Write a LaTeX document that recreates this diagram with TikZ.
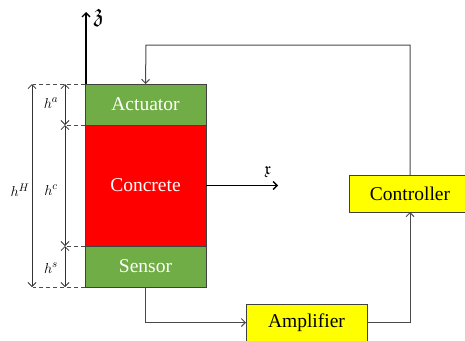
\documentclass[tikz,border=0pt]{standalone}
\usepackage{amssymb}
\usepackage{fontspec}
\setmainfont{Liberation Serif}
\usetikzlibrary{arrows.meta}
\definecolor{boxgreen}{HTML}{70AD47}
\definecolor{boxred}{HTML}{FF0000}
\definecolor{boxyellow}{HTML}{FFFF00}
\definecolor{lineg}{HTML}{4A4A4A}
\tikzset{
  blk/.style={draw=black!75, line width=0.6pt, inner sep=0pt, outer sep=0pt, font=\fontsize{19.5}{22}\selectfont},
  gbox/.style={blk, fill=boxgreen, text=white, minimum width=121pt},
  rbox/.style={blk, fill=boxred, text=white, minimum width=121pt},
  ybox/.style={blk, fill=boxyellow, text=black},
  conn/.style={draw=lineg, line width=1pt, -{Straight Barb[length=4pt,width=8pt]}},
  axisarrow/.style={draw=black, line width=1.4pt, -{Straight Barb[length=4pt,width=8pt]}},
  dimline/.style={draw=black!70, line width=0.8pt, dash pattern=on 4pt off 3pt},
  dimarrow/.style={draw=black!80, line width=0.8pt, {Straight Barb[length=4pt,width=8pt]}-{Straight Barb[length=4pt,width=8pt]}},
  dimlabel/.style={font=\fontsize{15}{17}\selectfont, inner sep=0pt}
}
\begin{document}
\begin{tikzpicture}[x=1pt,y=-1pt]
\useasboundingbox (0,0) rectangle (465,340);
% blocks
\node[gbox, minimum height=41pt] (act) at (145.5,104.5) {Actuator};
\node[rbox, minimum height=121pt] (conc) at (145.5,185.5) {Concrete};
\node[gbox, minimum height=41pt] (sens) at (145.5,266.5) {Sensor};
\node[ybox, minimum width=121pt, minimum height=37pt] (amp) at (306.5,322.5) {Amplifier};
\node[ybox, minimum width=122pt, minimum height=37pt] (ctrl) at (410,193.5) {Controller};
% axes
\coordinate (ztip) at (86,12);
\coordinate (xtip) at (278,185.5);
\draw[axisarrow] ([xshift=1pt]act.north west) -- (ztip);
\node[inner sep=0pt, font=\fontsize{26}{28}\selectfont] (zlab) at (99,18) {$\mathfrak{z}$};
\draw[axisarrow] (conc.east) -- (xtip);
\node[inner sep=0pt, font=\fontsize{17}{19}\selectfont] (xlab) at (268,172) {$\mathfrak{x}$};
% control loop
\coordinate (fb) at (146,45);
\draw[conn] (ctrl.north) |- (fb) -- (act.north);
\draw[conn] (sens.south) |- (amp.west);
\draw[conn] (amp.east) -| (ctrl.south);
% dimension guides
\coordinate (d1) at (33,84);
\coordinate (d2) at (65,125);
\coordinate (d3) at (65,246);
\coordinate (d4) at (33,287);
\draw[dimline] (act.north west) -- (d1);
\draw[dimline] (conc.north west) -- (d2);
\draw[dimline] (sens.north west) -- (d3);
\draw[dimline] (sens.south west) -- (d4);
% dimension arrows
\coordinate (a1) at (32,84);
\coordinate (a2) at (32,287);
\coordinate (b1) at (65,84);
\coordinate (b2) at (65,125);
\coordinate (b3) at (65,246);
\coordinate (b4) at (65,287);
\draw[dimarrow] (a1) -- (a2);
\draw[dimarrow] (b1) -- (b2);
\draw[dimarrow] (b2) -- (b3);
\draw[dimarrow] (b3) -- (b4);
\node[dimlabel] (lH) at (20,190) {$h^{H}$};
\node[dimlabel] (la) at (51,103) {$h^{a}$};
\node[dimlabel] (lc) at (51,190) {$h^{c}$};
\node[dimlabel] (ls) at (51,268) {$h^{s}$};
\end{tikzpicture}
\end{document}
